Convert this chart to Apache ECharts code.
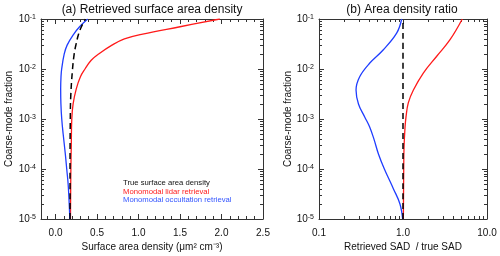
<!DOCTYPE html>
<html>
<head>
<meta charset="utf-8">
<script src="https://cdn.jsdelivr.net/npm/echarts@6/dist/echarts.min.js"></script>
<style>
html,body{margin:0;padding:0;background:#fff;}
#chart{width:500px;height:256px;}
</style>
</head>
<body>
<div id="chart"></div>
<script>
// ---------- data ----------
// Panel (a): surface area density vs coarse-mode fraction
const fracTrue = [1e-5, 1e-4, 1e-3, 3e-3, 1e-2, 2e-2, 3e-2, 5e-2, 7e-2, 1e-1];
const sadTrue  = [0.175, 0.175, 0.178, 0.184, 0.205, 0.225, 0.245, 0.278, 0.312, 0.36];

const fracLidar = [1e-5, 1e-4, 3e-4, 1e-3, 2e-3, 4e-3, 7e-3, 1e-2, 1.5e-2, 2e-2, 3e-2, 4e-2, 5e-2, 7e-2, 1e-1];
const sadLidar  = [0.18, 0.185, 0.19, 0.196, 0.212, 0.25, 0.30, 0.355, 0.43, 0.52, 0.68, 0.83, 1.05, 1.5, 1.98];

const fracOcc = [1e-5, 2e-5, 5e-5, 1e-4, 2e-4, 5e-4, 1e-3, 2e-3, 4e-3, 7e-3, 1e-2, 2e-2, 3e-2, 5e-2, 7e-2, 1e-1];
const sadOcc  = [0.172, 0.165, 0.152, 0.135, 0.118, 0.092, 0.075, 0.065, 0.062, 0.066, 0.074, 0.105, 0.14, 0.22, 0.29, 0.387];

// Panel (b): retrieved / true SAD ratio
const fracRatioTrue = [1e-5, 1e-1];
const ratioTrue     = [1.0, 1.0];

const fracRatioLidar = [1e-5, 1e-4, 2.6e-4, 6.6e-4, 1.1e-3, 2.1e-3, 3.8e-3, 8.3e-3, 1.8e-2, 3.85e-2, 1e-1];
const ratioLidar     = [1.01, 1.02, 1.028, 1.056, 1.086, 1.156, 1.33, 1.745, 2.52, 3.63, 5.08];

const fracRatioOcc = [1e-5, 2e-5, 4e-5, 1e-4, 2e-4, 4e-4, 7e-4, 1.1e-3, 2e-3, 3.8e-3, 7e-3, 1.3e-2, 2.4e-2, 5.2e-2, 1e-1];
const ratioOcc     = [0.99, 0.92, 0.77, 0.60, 0.51, 0.45, 0.40, 0.35, 0.295, 0.276, 0.305, 0.40, 0.58, 0.84, 0.965];

// ticks
const yMajorTicks = [1e-5, 1e-4, 1e-3, 1e-2, 1e-1];
const sadMajorTicks = [0.0, 0.5, 1.0, 1.5, 2.0, 2.5];
const ratioMajorTicks = [0.1, 1.0, 10.0];

const titleA = '(a) Retrieved surface area density';
const titleB = '(b) Area density ratio';
const xNameA = 'Surface area density (\u03BCm\u00B2 cm\u207B\u00B3)';
const xNameB = 'Retrieved SAD  / true SAD';
const yName = 'Coarse-mode fraction';
const legendLabels = ['True surface area density', 'Monomodal lidar retrieval', 'Monomodal occultation retrieval'];

// ---------- derived tick lists ----------
const yMinorTicks = [];
for (let e = -5; e < -1; e++) for (let m = 2; m <= 9; m++) yMinorTicks.push(m * Math.pow(10, e));
const sadMinorTicks = [];
for (let i = -1; i <= 25; i++) { if (i % 5 !== 0) sadMinorTicks.push(i / 10); }
const ratioMinorTicks = [];
for (let e = -1; e < 1; e++) for (let m = 2; m <= 9; m++) ratioMinorTicks.push(m * Math.pow(10, e));

const FONT = 'Liberation Sans, Arial, Helvetica, sans-serif';
const AX = '#333';
const pair = (xs, ys) => xs.map((x, i) => [ys[i], x]);

function makeX(gridIndex, type, min, max, pos, ticks, len, showLine, labelValues, fmt) {
  const a = {
    type: type, gridIndex: gridIndex, min: min, max: max, position: pos,
    axisLine: { show: showLine, onZero: false, lineStyle: { color: AX, width: 1 } },
    axisTick: { show: true, inside: true, length: len, customValues: ticks, lineStyle: { color: AX, width: 1 } },
    axisLabel: { show: !!labelValues, customValues: labelValues || undefined, color: '#111', fontSize: 10, fontFamily: FONT, margin: 9, formatter: fmt },
    splitLine: { show: false }
  };
  if (type === 'log') a.logBase = 10;
  return a;
}
function makeY(gridIndex, pos, ticks, len, showLine, withLabels) {
  return {
    type: 'log', logBase: 10, gridIndex: gridIndex, min: 1e-5, max: 1e-1, position: pos,
    axisLine: { show: showLine, onZero: false, lineStyle: { color: AX, width: 1 } },
    axisTick: { show: true, inside: true, length: len, customValues: ticks, lineStyle: { color: AX, width: 1 } },
    axisLabel: {
      show: withLabels, customValues: withLabels ? yMajorTicks : undefined, margin: 5,
      formatter: v => '{b|10}{s|' + Math.round(Math.log10(v)) + '}',
      rich: {
        b: { fontSize: 10, fontFamily: FONT, color: '#111' },
        s: { fontSize: 7, fontFamily: FONT, color: '#111', verticalAlign: 'top' }
      }
    },
    splitLine: { show: false }
  };
}

const xAxes = [];
const yAxes = [];
// grid 0
xAxes.push(makeX(0, 'value', -0.175, 2.5, 'bottom', sadMajorTicks, 5, true, sadMajorTicks, v => v.toFixed(1)));
xAxes.push(makeX(0, 'value', -0.175, 2.5, 'bottom', sadMinorTicks, 3, false));
xAxes.push(makeX(0, 'value', -0.175, 2.5, 'top', sadMajorTicks, 5, true));
xAxes.push(makeX(0, 'value', -0.175, 2.5, 'top', sadMinorTicks, 3, false));
// grid 1
xAxes.push(makeX(1, 'log', 0.1, 10, 'bottom', ratioMajorTicks, 5, true, ratioMajorTicks, v => v.toFixed(1)));
xAxes.push(makeX(1, 'log', 0.1, 10, 'bottom', ratioMinorTicks, 3, false));
xAxes.push(makeX(1, 'log', 0.1, 10, 'top', ratioMajorTicks, 5, true));
xAxes.push(makeX(1, 'log', 0.1, 10, 'top', ratioMinorTicks, 3, false));
for (let g = 0; g < 2; g++) {
  yAxes.push(makeY(g, 'left', yMajorTicks, 5, true, true));
  yAxes.push(makeY(g, 'left', yMinorTicks, 3, false, false));
  yAxes.push(makeY(g, 'right', yMajorTicks, 5, true, false));
  yAxes.push(makeY(g, 'right', yMinorTicks, 3, false, false));
}

function line(name, data, color, xi, yi, dashed, w) {
  return {
    type: 'line', name: name, data: data, xAxisIndex: xi, yAxisIndex: yi,
    showSymbol: false, symbol: 'none', smooth: 0.4,
    lineStyle: { color: color, width: w || 1.3, type: dashed ? [6, 4] : 'solid' },
    z: dashed ? 5 : 3, animation: false, silent: true
  };
}

const RED = '#ff1a1a';
const BLUE = '#1f3dff';

const option = {
  animation: false,
  backgroundColor: '#fff',
  grid: [
    { left: 41, top: 19, width: 222, height: 200 },
    { left: 319, top: 19, width: 168, height: 200 }
  ],
  xAxis: xAxes,
  yAxis: yAxes,
  series: [
    line(legendLabels[1], pair(fracLidar, sadLidar), RED, 0, 0, false),
    line(legendLabels[2], pair(fracOcc, sadOcc), BLUE, 0, 0, false),
    line(legendLabels[0], pair(fracTrue, sadTrue), '#000', 0, 0, true, 1.5),
    line(legendLabels[1], pair(fracRatioLidar, ratioLidar), RED, 4, 4, false),
    line(legendLabels[2], pair(fracRatioOcc, ratioOcc), BLUE, 4, 4, false),
    line(legendLabels[0], pair(fracRatioTrue, ratioTrue), '#000', 4, 4, true, 1.5)
  ],
  graphic: [
    { type: 'text', x: 152, y: 10, style: { text: titleA, font: '12px ' + FONT, fill: '#111', align: 'center', verticalAlign: 'middle' } },
    { type: 'text', x: 402, y: 10, style: { text: titleB, font: '12px ' + FONT, fill: '#111', align: 'center', verticalAlign: 'middle' } },
    { type: 'text', x: 152, y: 247, style: { text: xNameA, font: '10px ' + FONT, fill: '#111', align: 'center', verticalAlign: 'middle' } },
    { type: 'text', x: 403, y: 247, style: { text: xNameB, font: '10px ' + FONT, fill: '#111', align: 'center', verticalAlign: 'middle' } },
    { type: 'text', x: 9, y: 119, rotation: Math.PI / 2, style: { text: yName, font: '10px ' + FONT, fill: '#111', align: 'center', verticalAlign: 'middle' } },
    { type: 'text', x: 288, y: 119, rotation: Math.PI / 2, style: { text: yName, font: '10px ' + FONT, fill: '#111', align: 'center', verticalAlign: 'middle' } },
    { type: 'text', x: 123, y: 183, style: { text: legendLabels[0], font: '7.7px ' + FONT, fill: '#111', align: 'left', verticalAlign: 'middle' } },
    { type: 'text', x: 123, y: 191.5, style: { text: legendLabels[1], font: '7.7px ' + FONT, fill: RED, align: 'left', verticalAlign: 'middle' } },
    { type: 'text', x: 123, y: 200, style: { text: legendLabels[2], font: '7.7px ' + FONT, fill: '#3355ff', align: 'left', verticalAlign: 'middle' } }
  ]
};

const chart = echarts.init(document.getElementById('chart'), null, { renderer: 'canvas' });
chart.setOption(option);
</script>
</body>
</html>
